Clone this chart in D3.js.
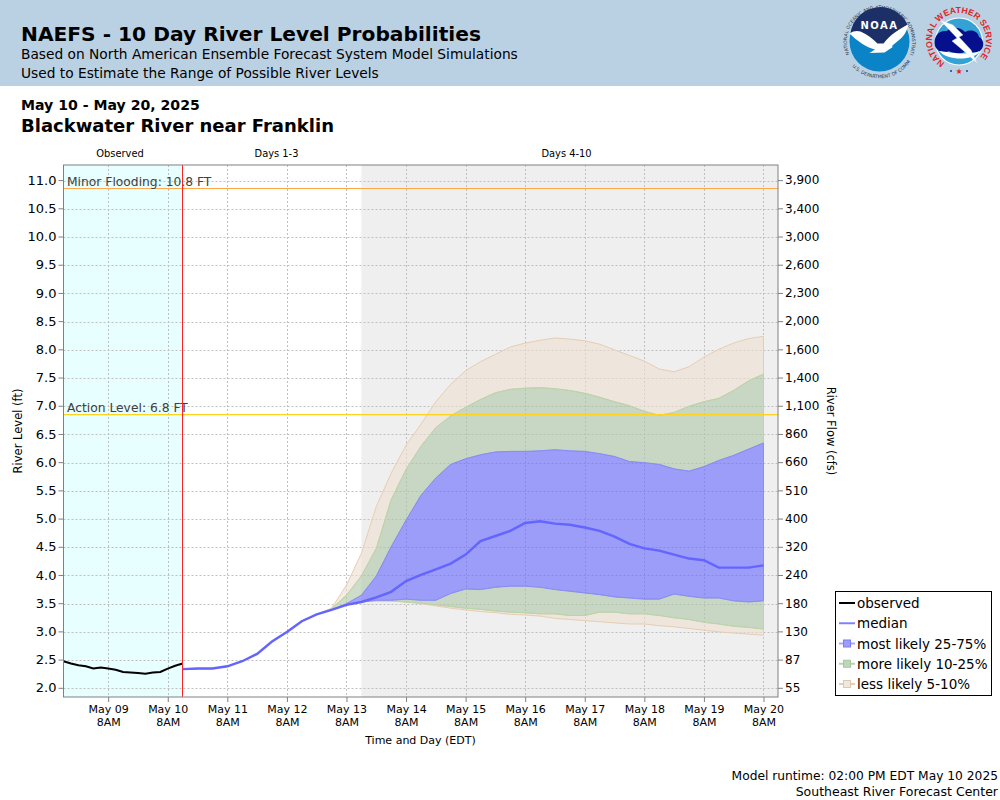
<!DOCTYPE html>
<html>
<head>
<meta charset="utf-8">
<title>NAEFS - 10 Day River Level Probabilities</title>
<script src="https://cdn.jsdelivr.net/npm/d3@7"></script>
<style>
  html, body { margin: 0; padding: 0; background: #fff; }
  svg { display: block; }
  text { font-family: "DejaVu Sans", sans-serif; fill: #000; }
  .tick line { stroke: #808080; }
  .domain { display: none; }
</style>
</head>
<body>
<div id="chart"></div>
<script>
// ==============
// Chart values
// ==============
var stageTicks = [2.0, 2.5, 3.0, 3.5, 4.0, 4.5, 5.0, 5.5, 6.0, 6.5, 7.0, 7.5, 8.0, 8.5, 9.0, 9.5, 10.0, 10.5, 11.0];
var flowLabels = ["55", "87", "130", "180", "240", "320", "400", "510", "660", "860", "1,100", "1,400", "1,600", "2,000", "2,300", "2,600", "3,000", "3,400", "3,900"];

// observed every 3 hours from May 8 2PM to May 10 2PM
var observed = [2.48, 2.44, 2.41, 2.39, 2.35, 2.37, 2.35, 2.33, 2.29, 2.28, 2.27, 2.26, 2.28, 2.29, 2.35, 2.40, 2.44];

// forecast every 6 hours from May 10 2PM to May 20 8AM
var median = [2.34, 2.35, 2.35, 2.39, 2.48, 2.61, 2.83, 3.00, 3.19, 3.31, 3.39, 3.48, 3.53, 3.61, 3.71, 3.90, 4.01, 4.11, 4.21, 4.37, 4.61, 4.70, 4.79, 4.93, 4.96, 4.92, 4.90, 4.85, 4.79, 4.69, 4.56, 4.48, 4.44, 4.37, 4.30, 4.27, 4.14, 4.14, 4.14, 4.18];
var q05 = [2.34, 2.35, 2.35, 2.39, 2.48, 2.61, 2.83, 3.00, 3.19, 3.31, 3.39, 3.48, 3.53, 3.55, 3.55, 3.53, 3.50, 3.46, 3.42, 3.39, 3.36, 3.34, 3.31, 3.30, 3.28, 3.24, 3.22, 3.20, 3.18, 3.16, 3.14, 3.14, 3.11, 3.09, 3.06, 3.03, 3.00, 2.98, 2.96, 2.94];
var q10 = [2.34, 2.35, 2.35, 2.39, 2.48, 2.61, 2.83, 3.00, 3.19, 3.31, 3.39, 3.48, 3.53, 3.55, 3.55, 3.53, 3.51, 3.48, 3.45, 3.42, 3.40, 3.37, 3.35, 3.34, 3.32, 3.32, 3.29, 3.29, 3.35, 3.35, 3.32, 3.32, 3.29, 3.25, 3.22, 3.17, 3.14, 3.10, 3.08, 3.05];
var q25 = [2.34, 2.35, 2.35, 2.39, 2.48, 2.61, 2.83, 3.00, 3.19, 3.31, 3.39, 3.48, 3.53, 3.56, 3.56, 3.58, 3.56, 3.56, 3.68, 3.76, 3.75, 3.79, 3.81, 3.81, 3.79, 3.75, 3.72, 3.69, 3.66, 3.62, 3.60, 3.58, 3.58, 3.67, 3.63, 3.60, 3.60, 3.55, 3.53, 3.55];
var q75 = [2.34, 2.35, 2.35, 2.39, 2.48, 2.61, 2.83, 3.00, 3.19, 3.31, 3.39, 3.50, 3.65, 3.99, 4.51, 4.98, 5.42, 5.73, 5.97, 6.07, 6.14, 6.19, 6.20, 6.20, 6.21, 6.23, 6.21, 6.20, 6.16, 6.11, 6.02, 6.00, 5.97, 5.89, 5.85, 5.93, 6.04, 6.13, 6.24, 6.35];
var q90 = [2.34, 2.35, 2.35, 2.39, 2.48, 2.61, 2.83, 3.00, 3.19, 3.31, 3.41, 3.65, 3.99, 4.48, 5.34, 5.88, 6.29, 6.62, 6.83, 6.98, 7.12, 7.24, 7.30, 7.32, 7.33, 7.31, 7.28, 7.23, 7.16, 7.08, 7.01, 6.91, 6.84, 6.89, 7.00, 7.08, 7.14, 7.28, 7.45, 7.57];
var q95 = [2.34, 2.35, 2.35, 2.39, 2.48, 2.61, 2.83, 3.00, 3.19, 3.31, 3.42, 3.83, 4.39, 5.22, 5.81, 6.31, 6.68, 7.08, 7.39, 7.63, 7.79, 7.92, 8.05, 8.12, 8.17, 8.21, 8.19, 8.16, 8.10, 8.00, 7.90, 7.80, 7.66, 7.61, 7.70, 7.87, 8.01, 8.12, 8.20, 8.24];

var actionLevel = 6.85, floodLevel = 10.86;
var legendLabels = ["observed", "median", "most likely 25-75%", "more likely 10-25%", "less likely 5-10%"];

// times are kept as if UTC so the labels stay EDT whatever the browser's zone is
var obsTimes = d3.utcHour.range(Date.UTC(2025, 4, 8, 14), Date.UTC(2025, 4, 10, 15), 3);
var fcstTimes = d3.utcHour.range(Date.UTC(2025, 4, 10, 14), Date.UTC(2025, 4, 20, 9), 6);
var dayTicks = d3.utcDay.range(Date.UTC(2025, 4, 9), Date.UTC(2025, 4, 21)).map(function(d) { return d3.utcHour.offset(d, 8); });

// ==============
// Setup
// ==============
var svg = d3.select("#chart").append("svg").attr("width", 1000).attr("height", 800);
var plot = { left: 63.5, right: 778, top: 165, bottom: 697 };

var x = d3.scaleUtc()
    .domain([Date.UTC(2025, 4, 8, 14), Date.UTC(2025, 4, 20, 13, 51)])
    .range([plot.left, plot.right]);
// y is pinned to the gridlines, not to the plot frame
var y = d3.scaleLinear().domain([2, 11]).range([688.3, 180.6]);

function label(txt, px, py, size, opts) {
    opts = opts || {};
    return svg.append("text").attr("x", px).attr("y", py)
        .attr("font-size", size)
        .attr("font-weight", opts.bold ? "bold" : "normal")
        .attr("text-anchor", opts.anchor || "start")
        .style("fill", opts.fill || "#000")
        .text(txt);
}

// ==============
// Header
// ==============
svg.append("rect").attr("width", 1000).attr("height", 86).attr("fill", "#bad1e4");
label("NAEFS - 10 Day River Level Probabilities", 21, 40.5, 20.2, { bold: true });
label("Based on North American Ensemble Forecast System Model Simulations", 21, 59, 13.75);
label("Used to Estimate the Range of Possible River Levels", 21, 78, 13.75);
label("May 10 - May 20, 2025", 21, 110, 14.1, { bold: true });
label("Blackwater River near Franklin", 21, 132, 18, { bold: true });

drawNoaa(879.5, 41.5);
drawNws(959, 40);

// ==============
// Plot background
// ==============
label("Observed", 120, 157, 9.9, { anchor: "middle" });
label("Days 1-3", 276.5, 157, 9.9, { anchor: "middle" });
label("Days 4-10", 566.5, 157, 9.9, { anchor: "middle" });

var nowTime = fcstTimes[0];
var day4Time = Date.UTC(2025, 4, 13, 14);
svg.append("rect").attr("x", plot.left).attr("y", plot.top)
    .attr("width", x(nowTime) - plot.left).attr("height", plot.bottom - plot.top).attr("fill", "#e8ffff");
svg.append("rect").attr("x", x(day4Time)).attr("y", plot.top)
    .attr("width", plot.right - x(day4Time)).attr("height", plot.bottom - plot.top).attr("fill", "#efefef");

// grid
svg.append("g").selectAll("line").data(stageTicks).enter().append("line")
    .attr("x1", plot.left).attr("x2", plot.right)
    .attr("y1", function(d) { return Math.round(y(d)) + 0.5; })
    .attr("y2", function(d) { return Math.round(y(d)) + 0.5; })
    .attr("stroke", "#c0c0c0").attr("stroke-dasharray", "2,2");
svg.append("g").selectAll("line").data(dayTicks).enter().append("line")
    .attr("x1", function(d) { return Math.round(x(d)) + 0.5; })
    .attr("x2", function(d) { return Math.round(x(d)) + 0.5; })
    .attr("y1", plot.top).attr("y2", plot.bottom)
    .attr("stroke", "#c0c0c0").attr("stroke-dasharray", "2,2");

// ==============
// Bands
// ==============
function band(lower, upper, fill, stroke) {
    var area = d3.area()
        .x(function(d) { return x(d); })
        .y0(function(d, i) { return y(lower[i]); })
        .y1(function(d, i) { return y(upper[i]); });
    svg.append("path").datum(fcstTimes).attr("d", area)
        .attr("fill", fill).attr("fill-opacity", 0.6)
        .attr("stroke", stroke).attr("stroke-opacity", 1).attr("stroke-width", 1);
}
var tanFill = "rgb(236,224,207)", tanLine = "#e6cdb4";
var greenFill = "rgb(174,199,166)", greenLine = "#b8d6aa";
var blueFill = "rgb(100,100,255)", blueLine = "#8a8afb";

band(q05, q10, tanFill, tanLine);
band(q90, q95, tanFill, tanLine);
band(q10, q25, greenFill, greenLine);
band(q75, q90, greenFill, greenLine);
band(q25, q75, blueFill, blueLine);

// ==============
// Levels and lines
// ==============
function hLine(val, color) {
    svg.append("line").attr("x1", plot.left).attr("x2", plot.right)
        .attr("y1", y(val)).attr("y2", y(val))
        .attr("stroke", color).attr("stroke-width", 1.2);
}
hLine(actionLevel, "#ffd21e");
hLine(floodLevel, "#ffa84a");
label("Action Level: 6.8 FT", 67, y(actionLevel) - 2.5, 12.3, { fill: "#404040" });
label("Minor Flooding: 10.8 FT", 67, y(floodLevel) - 2.5, 12.3, { fill: "#404040" });

var line = d3.line()
    .x(function(d) { return x(d[0]); })
    .y(function(d) { return y(d[1]); });

svg.append("path").datum(d3.zip(fcstTimes, median)).attr("d", line)
    .attr("fill", "none").attr("stroke", "#6464ff").attr("stroke-width", 2.4);
svg.append("path").datum(d3.zip(obsTimes, observed)).attr("d", line)
    .attr("fill", "none").attr("stroke", "#000").attr("stroke-width", 2);

svg.append("line").attr("x1", Math.round(x(nowTime)) - 0.5).attr("x2", Math.round(x(nowTime)) - 0.5)
    .attr("y1", plot.top).attr("y2", plot.bottom)
    .attr("stroke", "#ff2020").attr("stroke-width", 1);

// frame
svg.append("rect").attr("x", plot.left).attr("y", plot.top)
    .attr("width", plot.right - plot.left).attr("height", plot.bottom - plot.top)
    .attr("fill", "none").attr("stroke", "#808080").attr("stroke-width", 1);

// ==============
// Axes
// ==============
var leftAxis = d3.axisLeft(y).tickValues(stageTicks).tickSize(5).tickPadding(2).tickFormat(d3.format(".1f"));
var rightAxis = d3.axisRight(y).tickValues(stageTicks).tickSize(5).tickPadding(2)
    .tickFormat(function(d, i) { return flowLabels[i]; });
var bottomAxis = d3.axisBottom(x).tickValues(dayTicks).tickSize(5).tickPadding(3).tickFormat(d3.utcFormat("%b %d"));

var gl = svg.append("g").attr("transform", "translate(" + plot.left + ",-0.5)").call(leftAxis);
var gr = svg.append("g").attr("transform", "translate(" + plot.right + ",-0.5)").call(rightAxis);
var gb = svg.append("g").attr("transform", "translate(0," + plot.bottom + ")").call(bottomAxis);
gl.selectAll("text").attr("font-size", 13);
gr.selectAll("text").attr("font-size", 12);
gl.attr("font-family", null); gr.attr("font-family", null); gb.attr("font-family", null);
gb.selectAll("text").attr("font-size", 11)
    .append("tspan").attr("x", 0).attr("dy", "1.18em").text("8AM");

label("Time and Day (EDT)", 420.5, 744, 11, { anchor: "middle" });
label("River Level (ft)", 0, 0, 11.5, { anchor: "middle" })
    .attr("transform", "translate(22,431) rotate(-90)");
label("River Flow (cfs)", 0, 0, 11.5, { anchor: "middle" })
    .attr("transform", "translate(827,431) rotate(90)");

// ==============
// Legend
// ==============
svg.append("rect").attr("x", 835.5).attr("y", 591.5).attr("width", 156).attr("height", 104)
    .attr("fill", "#fff").attr("stroke", "#000");
var legendStyle = [
    { line: "#000", opacity: 1 },
    { line: "#8080ff", opacity: 1 },
    { line: "#a8a8ff", box: "#9d9dfa", boxLine: "#7c7cf5" },
    { line: "#b8d3b0", box: "#c0d6bb", boxLine: "#a5c79c" },
    { line: "#e6cdb4", box: "#f0e8dc", boxLine: "#e0c8b0" }
];
var rows = svg.append("g").selectAll("g").data(legendLabels).enter().append("g")
    .attr("transform", function(d, i) { return "translate(838," + (603 + i * 20.25) + ")"; });
rows.append("line").attr("x1", 1).attr("x2", 17)
    .attr("stroke", function(d, i) { return legendStyle[i].line; }).attr("stroke-width", 2);
rows.filter(function(d, i) { return legendStyle[i].box; }).append("rect")
    .attr("x", 5.5).attr("y", -3.5).attr("width", 7).attr("height", 7)
    .attr("fill", function(d) { return legendStyle[legendLabels.indexOf(d)].box; })
    .attr("stroke", function(d) { return legendStyle[legendLabels.indexOf(d)].boxLine; });
rows.append("text").attr("x", 19).attr("y", 5).attr("font-size", 13.5).text(function(d) { return d; });

// ==============
// Footer
// ==============
label("Model runtime: 02:00 PM EDT May 10 2025", 998, 780, 12.26, { anchor: "end" });
label("Southeast River Forecast Center", 998, 796, 12.5, { anchor: "end" });

// ==============
// Logos
// ==============
function drawNoaa(cx, cy) {
    var g = svg.append("g").attr("transform", "translate(" + cx + "," + cy + ")");
    g.append("circle").attr("r", 30).attr("fill", "#0a84c6");
    g.append("path").attr("d", "M-29,-8 A30,30 0 0 1 28,-17 L0,8 Z").attr("fill", "#1c2f66");
    // gull
    g.append("path").attr("d", "M-30,-8 C-26,-11 -22,-11 -19,-10 C-12,-7 -7,-3 -2,2 L4,2 C11,-7 20,-13 29,-17 C27,-9 24,-5 19,-1 C14,3 10,6 14,5 L5,11 L-10,11.5 L-4.5,8 C-13,6 -23,-1 -30,-8 Z").attr("fill", "#fff");
    g.append("text").attr("y", -13).attr("text-anchor", "middle").attr("font-size", 10).attr("font-weight", "bold")
        .attr("letter-spacing", 1.5).style("fill", "#fff").text("NOAA");
    svg.append("path").attr("id", "noaaTop").attr("fill", "none")
        .attr("d", "M" + (cx - 29.5) + "," + (cy + 14) + " A32.6,32.6 0 1 1 " + (cx + 29.5) + "," + (cy + 14));
    svg.append("path").attr("id", "noaaBot").attr("fill", "none")
        .attr("d", "M" + (cx - 31) + "," + (cy + 20) + " A37,37 0 0 0 " + (cx + 31) + "," + (cy + 20));
    svg.append("text").attr("font-size", 4.7).style("fill", "#26364f").append("textPath")
        .attr("href", "#noaaTop").attr("startOffset", "1%").text("NATIONAL OCEANIC AND ATMOSPHERIC ADMINISTRATION");
    svg.append("text").attr("font-size", 4.7).style("fill", "#26364f").append("textPath")
        .attr("href", "#noaaBot").attr("startOffset", "8%").text("U.S. DEPARTMENT OF COMMERCE");
}

function drawNws(cx, cy) {
    var g = svg.append("g").attr("transform", "translate(" + cx + "," + cy + ")");
    g.append("circle").attr("r", 24).attr("cy", 1.5).attr("fill", "#fff");
    g.append("circle").attr("r", 23).attr("cy", 1.5).attr("fill", "#35a2d6");
    // cloud
    g.append("path").attr("d", "M-24,6 C-26,-4 -20,-10 -12,-9 C-8,-14 2,-13 6,-8 C12,-11 19,-9 20,-3 C25,-1 26,7 21,11 C16,14 11,12 7,11 C1,15 -6,14 -10,11 C-16,14 -22,11 -24,6 Z").attr("fill", "#06108c");
    g.append("path").attr("d", "M-20,11 C-10,12 8,16 21,11 C16,20 -10,22 -20,11 Z").attr("fill", "#fff");
    // lightning bolt
    g.append("path").attr("d", "M-19,-20 L-6,-15 L4,-5 L0,-3 L12,10 L18,23 L6,12 L-7,1 L-2,-2 Z").attr("fill", "#fff").attr("stroke", "#cfe2f0").attr("stroke-width", 0.4);
    svg.append("path").attr("id", "nwsArc").attr("fill", "none")
        .attr("d", "M" + (cx - 14.3) + "," + (cy + 22.9) + " A27,27 0 1 1 " + (cx + 14.3) + "," + (cy + 22.9));
    svg.append("text").attr("font-size", 8.7).attr("font-weight", "bold")
        .style("font-family", "'Liberation Sans', sans-serif")
        .style("fill", "#e0262a").append("textPath").attr("href", "#nwsArc").text("NATIONAL WEATHER SERVICE");
    g.append("circle").attr("cx", -8).attr("cy", 31).attr("r", 1).attr("fill", "#1c3a9c");
    g.append("circle").attr("cx", 8).attr("cy", 31).attr("r", 1).attr("fill", "#1c3a9c");
    g.append("text").attr("y", 34).attr("text-anchor", "middle").attr("font-size", 8)
        .style("fill", "#e0262a").text("★");
}
</script>
</body>
</html>
